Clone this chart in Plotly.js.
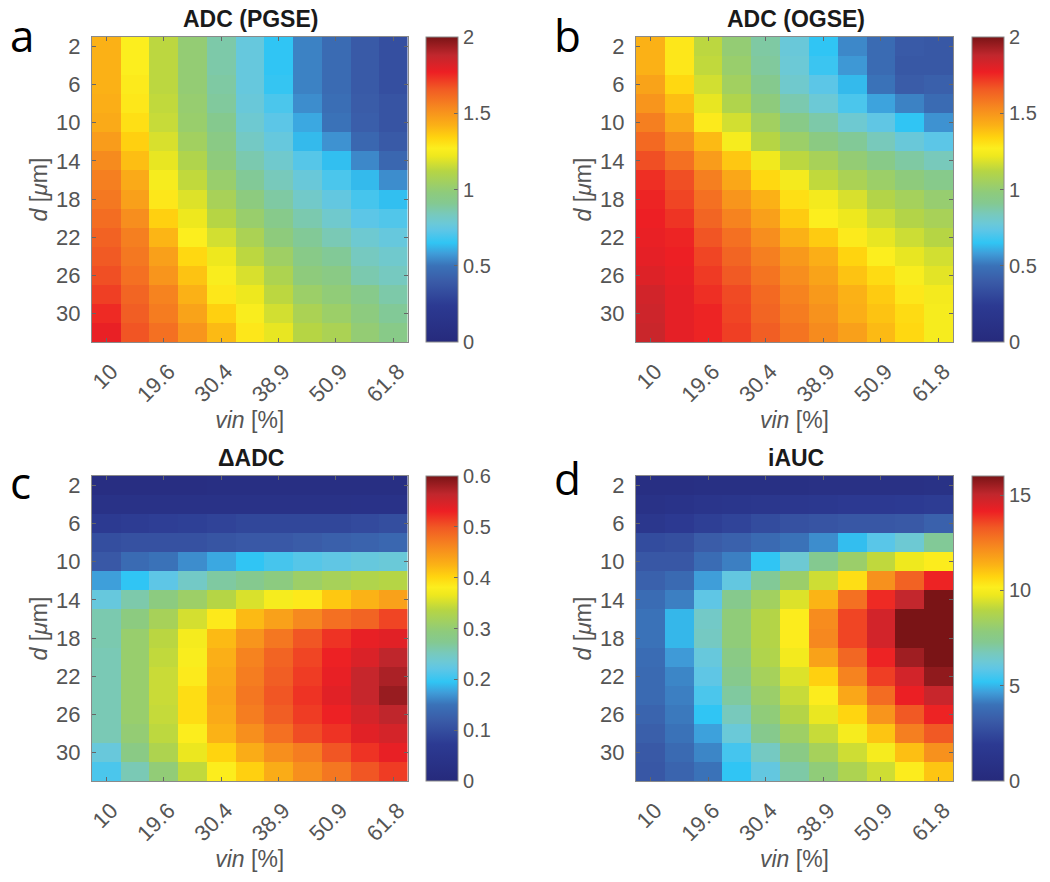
<!DOCTYPE html>
<html>
<head>
<meta charset="utf-8">
<script src="https://cdn.plot.ly/plotly-3.0.1.min.js"></script>
<style>html,body{margin:0;padding:0;background:#fff}#chart{width:1050px;height:882px}</style>
</head>
<body>
<div id="chart"></div>
<script>
const vinIndex = [0,1,2,3,4,5,6,7,8,9,10];
const vinTickIndex = [0,2,4,6,8,10];
const vinTickText = ['10','19.6','30.4','38.9','50.9','61.8'];
const dValues = [2,4,6,8,10,12,14,16,18,20,22,24,26,28,30,32];
const dTicks = [2,6,10,14,18,22,26,30];

const adcPgse = [
[1.42,1.27,1.13,1.00,.87,.76,.65,.53,.47,.39,.34],
[1.42,1.27,1.13,1.00,.87,.76,.65,.53,.47,.39,.34],
[1.42,1.28,1.13,1.00,.88,.76,.66,.53,.47,.39,.34],
[1.43,1.29,1.14,1.01,.89,.77,.70,.55,.48,.40,.36],
[1.44,1.31,1.15,1.02,.92,.79,.73,.60,.50,.41,.36],
[1.48,1.35,1.18,1.05,.95,.82,.76,.63,.56,.45,.39],
[1.53,1.39,1.21,1.10,.98,.86,.80,.72,.64,.54,.45],
[1.56,1.44,1.25,1.14,1.02,.90,.84,.77,.70,.63,.55],
[1.58,1.47,1.29,1.19,1.07,.97,.88,.81,.75,.69,.64],
[1.61,1.52,1.35,1.22,1.12,1.02,.93,.86,.80,.73,.71],
[1.64,1.56,1.41,1.27,1.17,1.08,.98,.90,.85,.79,.76],
[1.66,1.58,1.47,1.33,1.22,1.13,1.04,.94,.90,.83,.80],
[1.68,1.60,1.50,1.38,1.26,1.18,1.09,.98,.95,.86,.83],
[1.71,1.63,1.55,1.42,1.29,1.22,1.13,1.03,.99,.93,.87],
[1.75,1.65,1.57,1.46,1.35,1.26,1.17,1.08,1.03,.97,.90],
[1.78,1.67,1.60,1.50,1.40,1.29,1.21,1.12,1.08,1.00,.94]];

const adcOgse = [
[1.42,1.29,1.13,1.00,.88,.77,.65,.54,.47,.39,.38],
[1.42,1.29,1.14,1.02,.89,.78,.67,.57,.47,.38,.38],
[1.46,1.33,1.17,1.05,.92,.80,.73,.63,.50,.40,.42],
[1.50,1.39,1.21,1.10,.98,.86,.78,.70,.59,.53,.47],
[1.56,1.44,1.28,1.17,1.05,.94,.87,.79,.74,.65,.56],
[1.62,1.52,1.40,1.25,1.12,1.03,.96,.90,.84,.77,.73],
[1.68,1.60,1.48,1.37,1.23,1.13,1.07,1.00,.94,.88,.84],
[1.74,1.68,1.56,1.45,1.33,1.24,1.14,1.08,1.03,.98,.93],
[1.76,1.70,1.60,1.50,1.42,1.31,1.24,1.18,1.11,1.06,1.01],
[1.77,1.73,1.63,1.55,1.47,1.36,1.27,1.22,1.16,1.11,1.07],
[1.78,1.76,1.67,1.60,1.52,1.42,1.36,1.28,1.21,1.16,1.12],
[1.79,1.77,1.70,1.63,1.56,1.49,1.43,1.34,1.27,1.21,1.17],
[1.81,1.78,1.72,1.66,1.59,1.52,1.46,1.38,1.32,1.26,1.20],
[1.84,1.79,1.74,1.69,1.62,1.55,1.49,1.42,1.36,1.29,1.24],
[1.85,1.79,1.76,1.70,1.63,1.57,1.51,1.43,1.38,1.32,1.25],
[1.86,1.79,1.76,1.71,1.65,1.59,1.53,1.47,1.40,1.33,1.25]];

const deltaAdc = [
[.020,.020,.020,.020,.022,.022,.022,.022,.022,.022,.022],
[.035,.035,.036,.036,.036,.036,.036,.036,.037,.038,.038],
[.070,.075,.078,.080,.085,.090,.090,.090,.090,.095,.100],
[.100,.105,.105,.105,.110,.115,.115,.120,.125,.130,.135],
[.115,.140,.150,.165,.180,.195,.207,.216,.222,.228,.232],
[.175,.195,.220,.245,.265,.275,.290,.310,.320,.330,.335],
[.228,.260,.290,.310,.335,.355,.375,.385,.410,.425,.440],
[.258,.290,.320,.352,.385,.420,.440,.460,.480,.490,.510],
[.258,.305,.338,.374,.420,.450,.475,.500,.520,.535,.540],
[.255,.305,.342,.378,.428,.465,.490,.510,.530,.545,.565],
[.255,.305,.346,.384,.432,.470,.495,.515,.535,.560,.575],
[.255,.305,.346,.395,.436,.475,.500,.520,.540,.560,.585],
[.255,.305,.344,.395,.432,.470,.495,.515,.530,.550,.565],
[.255,.300,.340,.382,.425,.455,.480,.505,.520,.540,.550],
[.230,.285,.328,.365,.402,.430,.455,.470,.500,.520,.535],
[.210,.255,.298,.342,.382,.405,.430,.455,.475,.500,.515]];

const iAuc = [
[.6,.6,.7,.7,.7,.7,.8,.8,.8,.8,.9],
[1.0,1.1,1.3,1.4,1.5,1.6,1.7,1.8,1.8,1.9,2.0],
[1.5,1.8,2.1,2.3,2.6,2.8,2.9,3.0,3.0,3.1,3.4],
[2.6,2.7,3.2,3.4,3.7,4.0,4.4,5.1,5.8,6.3,7.2],
[3.0,3.0,3.8,4.2,5.2,6.3,7.3,8.2,9.1,9.8,10.2],
[3.4,3.7,4.65,6.0,7.2,8.2,9.3,10.5,12.1,13.1,14.1],
[3.8,4.2,5.9,7.4,8.4,9.5,11.3,12.8,14.0,15.0,16.0],
[4.0,5.0,6.5,7.9,8.9,10.2,12.2,13.6,14.7,16.0,16.0],
[4.0,5.0,6.6,7.9,8.9,10.2,12.3,13.6,14.7,16.0,16.0],
[3.8,4.6,6.1,7.6,8.8,9.9,11.7,13.0,14.1,15.5,16.0],
[3.7,4.3,5.9,7.4,8.5,9.5,10.8,12.4,13.7,14.7,15.7],
[3.7,4.2,5.6,7.1,8.2,9.2,10.2,11.6,12.9,14.2,14.9],
[3.5,4.1,5.2,6.7,7.9,8.9,9.7,10.7,12.0,13.3,14.1],
[3.3,4.0,4.7,6.2,7.4,8.3,9.2,10.0,11.0,12.5,13.3],
[3.1,3.7,4.3,5.5,6.6,7.6,8.5,9.3,10.0,11.1,12.1],
[3.0,3.5,4.0,5.2,6.0,7.0,7.9,8.7,9.3,10.2,11.0]];

const titles = ['ADC (PGSE)','ADC (OGSE)','ΔADC','iAUC'];
const letters = ['a','b','c','d'];
const zMaxima = [2,2,0.6,16];
const barTicks = [[0,0.5,1,1.5,2],[0,0.5,1,1.5,2],[0,0.1,0.2,0.3,0.4,0.5,0.6],[0,5,10,15]];
const matrices = [adcPgse,adcOgse,deltaAdc,iAuc];

const colorStops = [
[0,'#262a7c'],[0.12,'#2c3a92'],[0.20,'#3a5ca8'],[0.25,'#3a72b8'],[0.29,'#3f9dd9'],[0.325,'#30c5f4'],
[0.367,'#5ec6e6'],[0.39,'#6cc9d6'],[0.42,'#78c9bb'],[0.455,'#84c991'],[0.49,'#8ecb7c'],[0.56,'#b6d544'],
[0.61,'#eee81e'],[0.635,'#fcee1e'],[0.67,'#ffd40f'],[0.71,'#fbb116'],[0.77,'#f6871f'],[0.83,'#f15a24'],
[0.885,'#ed1f24'],[0.94,'#c1272d'],[1,'#7a1416']];

const W = 1050, H = 882;
const tickCol = '#555555', lineCol = '#8a8a8a', font = 'Liberation Sans, Arial, sans-serif';
const boxes = [
 {x0:92,x1:407.5,y0:37,y1:342,cb:426,lx:8,ly:35,ty:19},
 {x0:636,x1:953,y0:37,y1:342,cb:972,lx:552,ly:35,ty:19},
 {x0:92,x1:407.5,y0:476,y1:781,cb:426,lx:8,ly:482,ty:458},
 {x0:636,x1:953,y0:476,y1:781,cb:972,lx:552,ly:478,ty:458}];

const traces = [], layout = {
 width:W,height:H,margin:{l:0,r:0,t:0,b:0,pad:0},paper_bgcolor:'#fff',plot_bgcolor:'#fff',
 showlegend:false,annotations:[],font:{family:font,color:tickCol}};

boxes.forEach((b,i)=>{
 const n = i===0?'':String(i+1);
 traces.push({
  type:'heatmap',x:vinIndex,y:dValues,z:matrices[i],zmin:0,zmax:zMaxima[i],
  xaxis:'x'+n,yaxis:'y'+n,colorscale:colorStops,xgap:0,ygap:0,
  colorbar:{x:b.cb/W,xanchor:'left',xpad:0,ypad:0,thickness:32,thicknessmode:'pixels',
   len:(b.y1-b.y0)/H,lenmode:'fraction',y:1-b.y1/H,yanchor:'bottom',
   outlinecolor:lineCol,outlinewidth:1,tickvals:barTicks[i],ticks:'inside',ticklen:4,
   tickcolor:'#666',tickwidth:1,tickfont:{size:20,color:tickCol,family:font}}
 });
 layout['xaxis'+n]={domain:[b.x0/W,b.x1/W],anchor:'y'+n,range:[-0.5,10.5],tickmode:'array',
  tickvals:vinTickIndex,ticktext:vinTickText,tickangle:-45,ticks:'inside',ticklen:4,tickcolor:'#666',
  tickfont:{size:22,color:tickCol,family:font},ticklabelstandoff:7,ticklabelshift:5,showgrid:false,zeroline:false,
  showline:true,linecolor:lineCol,linewidth:1,mirror:'ticks',
  title:{text:'<i>vin</i> [%]',font:{size:23,color:tickCol,family:font},standoff:0}};
 layout['yaxis'+n]={domain:[1-b.y1/H,1-b.y0/H],anchor:'x'+n,range:[33,1],tickmode:'array',
  tickvals:dTicks,ticks:'inside',ticklen:4,tickcolor:'#666',tickfont:{size:22,color:tickCol,family:font},
  ticklabelstandoff:6,showgrid:false,zeroline:false,showline:true,linecolor:lineCol,linewidth:1,mirror:'ticks',
  title:{text:'<i>d</i> [<i>μ</i>m]',font:{size:23,color:tickCol,family:font},standoff:2}};
 layout.annotations.push({xref:'paper',yref:'paper',x:((b.x0+b.x1)/2+1)/W,y:1-b.ty/H,xanchor:'center',yanchor:'middle',
  showarrow:false,text:'<b>'+titles[i]+'</b>',font:{size:23,color:'#1a1a1a',family:font}});
 layout.annotations.push({xref:'paper',yref:'paper',x:b.lx/W,y:1-b.ly/H,xanchor:'left',yanchor:'middle',
  showarrow:false,text:letters[i],font:{size:44,color:'#000',family:'Open Sans, sans-serif'}});
});
Plotly.newPlot('chart',traces,layout,{displayModeBar:false,staticPlot:true});
</script>
</body>
</html>
